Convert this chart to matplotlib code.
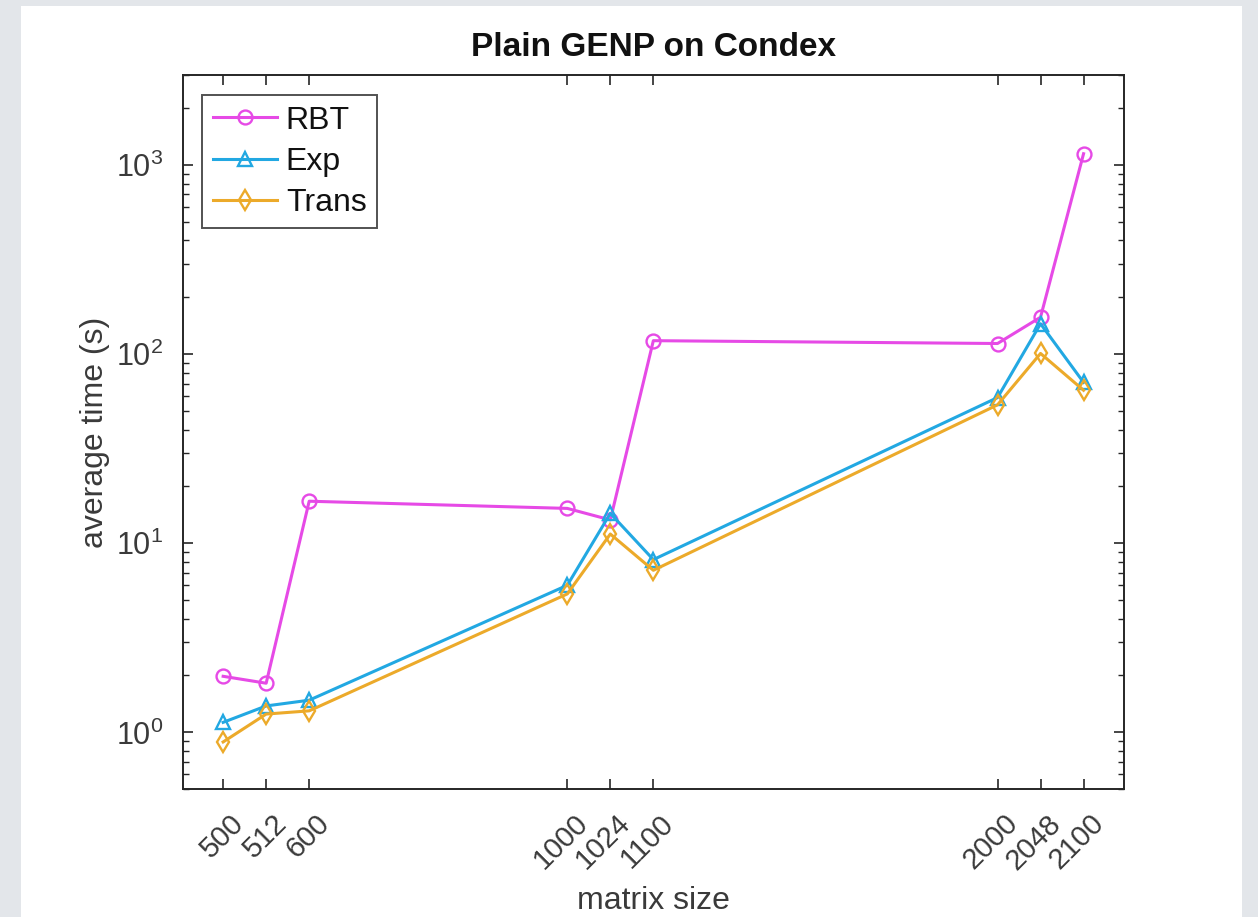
import matplotlib
matplotlib.use("Agg")
import matplotlib.pyplot as plt
from matplotlib.patches import Rectangle
from matplotlib.transforms import ScaledTranslation
from matplotlib.ticker import LogLocator, NullFormatter, FixedLocator

# ---- data ----
sizes = ["500", "512", "600", "1000", "1024", "1100", "2000", "2048", "2100"]
x_pos = [1, 2, 3, 9, 10, 11, 19, 20, 21]
rbt = [1.98, 1.82, 16.7, 15.3, 13.3, 118, 114, 157, 1150]
exp_ = [1.13, 1.38, 1.48, 6.0, 14.4, 8.2, 59, 145, 71]
trans = [0.89, 1.25, 1.30, 5.4, 11.2, 7.2, 54, 101, 64.5]
series_names = ["RBT", "Exp", "Trans"]

plt.rcParams['font.family'] = ['Liberation Sans', 'DejaVu Sans']
plt.rcParams['mathtext.fontset'] = 'custom'
plt.rcParams['mathtext.rm'] = 'Liberation Sans'
plt.rcParams['mathtext.it'] = 'Liberation Sans'

W, H = 1258, 917
fig = plt.figure(figsize=(W / 100, H / 100), dpi=100)
fig.patch.set_facecolor('#E3E6EA')
fig.patches.append(Rectangle((21 / W, 0), (1242 - 21) / W, (H - 6) / H,
                             transform=fig.transFigure, facecolor='white',
                             edgecolor='none', zorder=-10))

ax = fig.add_axes([182.7 / W, (H - 789.3) / H, (1124 - 182.7) / W, (789.3 - 75) / H])
ax.set_facecolor('white')

txt = '#3a3a3a'
common = dict(markersize=10, markerfacecolor='none', markeredgewidth=1.7, linewidth=2.2)
ax.plot(x_pos, rbt, color='#E64AE6', marker='o', label=series_names[0], **common)
ax.plot(x_pos, exp_, color='#22A8E2', marker='^', label=series_names[1], **common)
ax.plot(x_pos, trans, color='#ECAA2A', marker='d', label=series_names[2], **common)

ax.set_yscale('log')
ax.set_ylim(0.5, 3000)
ax.set_xlim(0.06, 21.94)

ax.yaxis.set_major_locator(LogLocator(base=10, numticks=10))
ax.yaxis.set_minor_locator(LogLocator(base=10, subs=range(2, 10), numticks=20))
ax.yaxis.set_minor_formatter(NullFormatter())

ax.tick_params(axis='both', which='both', direction='in', top=True, right=True,
               colors='#262626', labelcolor=txt)
ax.tick_params(axis='x', which='major', length=7, width=1.2, labelsize=21, pad=10)
ax.tick_params(axis='y', which='major', length=7, width=1.2, labelsize=22, pad=14)
ax.tick_params(axis='y', which='minor', length=4, width=1.0)

ax.xaxis.set_major_locator(FixedLocator(x_pos))
ax.set_xticklabels(sizes, rotation=45, fontsize=21, color=txt, ha='right',
                   va='top', rotation_mode='anchor')
off = ScaledTranslation(6 / 100, -6 / 100, fig.dpi_scale_trans)
for lab in ax.get_xticklabels():
    lab.set_transform(lab.get_transform() + off)

for s in ax.spines.values():
    s.set_color('#262626')
    s.set_linewidth(1.4)

ax.set_title('Plain GENP on Condex', fontsize=24, fontweight='bold', color='#111111', pad=14)
ax.set_xlabel('matrix size', fontsize=23, color=txt, labelpad=8)
ax.set_ylabel('average time (s)', fontsize=23, color=txt, labelpad=4)

leg = ax.legend(loc='upper left', bbox_to_anchor=(0.021, 0.972), fontsize=23,
                frameon=True, fancybox=False, handlelength=2.0, handletextpad=0.28,
                borderpad=0.33, labelspacing=0.35, borderaxespad=0)
leg.get_frame().set_edgecolor('#262626')
leg.get_frame().set_linewidth(1.4)
for t in leg.get_texts():
    t.set_color('#111111')

fig.savefig('out.png', dpi=100, facecolor=fig.get_facecolor())
